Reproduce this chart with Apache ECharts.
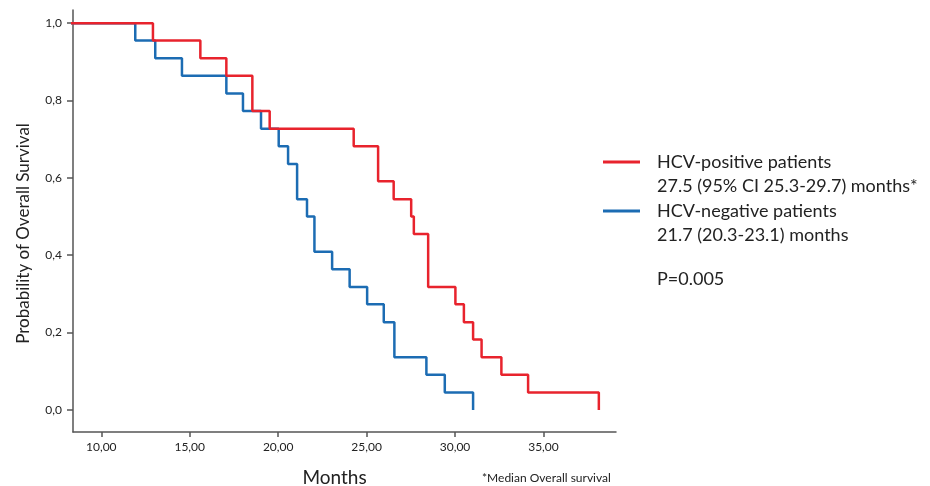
<!DOCTYPE html>
<html>
<head>
<meta charset="utf-8">
<script src="https://cdn.jsdelivr.net/npm/echarts@6/dist/echarts.min.js"></script>
<style>html,body{margin:0;padding:0;background:#fff}#c{width:930px;height:486px}</style>
</head>
<body>
<div id="c"></div>
<script>
// Kaplan-Meier data (time in months, survival probability)
var redName = 'HCV-positive patients';
var redSub = '27.5 (95% CI 25.3-29.7) months*';
var redTimes = [0, 12.92, 15.6, 17.07, 18.54, 19.52, 24.27, 25.65, 26.53, 27.52, 27.67, 28.48, 30.02, 30.5, 31.02, 31.5, 32.62, 34.13, 38.13];
var redSurv  = [1.0, 0.955, 0.909, 0.864, 0.773, 0.727, 0.682, 0.591, 0.545, 0.5, 0.455, 0.318, 0.273, 0.227, 0.182, 0.136, 0.091, 0.045, 0.0];

var blueName = 'HCV-negative patients';
var blueSub = '21.7 (20.3-23.1) months';
var blueTimes = [0, 11.92, 13.05, 14.56, 17.07, 18.01, 19.03, 20.03, 20.56, 21.07, 21.63, 22.05, 23.05, 24.04, 25.03, 25.97, 26.57, 28.38, 29.42, 31.02];
var blueSurv  = [1.0, 0.955, 0.909, 0.864, 0.818, 0.773, 0.727, 0.682, 0.636, 0.545, 0.5, 0.409, 0.364, 0.318, 0.273, 0.227, 0.136, 0.091, 0.045, 0.0];

var xTicks = [10, 15, 20, 25, 30, 35];
var yTicks = [0, 0.2, 0.4, 0.6, 0.8, 1.0];
var pText = 'P=0.005';
var footnote = '*Median Overall survival';

function zip(a, b) { return a.map(function (v, i) { return [v, b[i]]; }); }

var RED = '#e8232d', BLUE = '#1c6cb3', AXIS = '#555555';
var FONT = 'Lato';

var chart = echarts.init(document.getElementById('c'), null, {renderer: 'canvas'});

function legendCfg(name, top) {
  return {
    data: [name], orient: 'vertical', left: 603, top: top,
    icon: 'rect', itemWidth: 37, itemHeight: 3, itemGap: 0,
    selectedMode: false,
    formatter: function (n) {
      var sub = n === redName ? redSub : blueSub;
      return ['{t| }', '{s|}{t|' + n + '}', '{s|}{t|' + sub + '}'].join('\n');
    },
    textStyle: {
      fontFamily: FONT, fontSize: 18, color: '#222',
      rich: {
        s: { width: 12, height: 24 },
        t: { fontFamily: FONT, fontSize: 18, lineHeight: 24, color: '#222' }
      }
    },
    padding: 0
  };
}

chart.setOption({
  animation: false,
  backgroundColor: '#fff',
  grid: { left: 73, right: 314, top: 10, bottom: 54, containLabel: false, outerBoundsMode: 'none' },
  legend: [legendCfg(redName, 129), legendCfg(blueName, 178)],
  xAxis: {
    type: 'value', min: 8.4, max: 39.1,
    name: 'Months', nameLocation: 'middle', nameGap: 36,
    nameTextStyle: { fontFamily: FONT, fontSize: 19, color: '#222', padding: [0, 20, 0, 0] },
    axisLine: { show: true, onZero: false, lineStyle: { color: AXIS, width: 1.5 } },
    axisTick: { show: true, length: 5, customValues: xTicks, lineStyle: { color: AXIS, width: 1.5 } },
    axisLabel: { customValues: xTicks, margin: 9, fontFamily: FONT, fontSize: 12, color: '#222',
      formatter: function (v) { return v.toFixed(2).replace('.', ','); } },
    splitLine: { show: false }
  },
  yAxis: {
    type: 'value', min: -0.057, max: 1.034,
    name: 'Probability of Overall Survival', nameLocation: 'middle', nameGap: 41,
    nameTextStyle: { fontFamily: FONT, fontSize: 17, color: '#222', padding: [0, 25, 0, 0] },
    axisLine: { show: true, onZero: false, lineStyle: { color: AXIS, width: 1.5 } },
    axisTick: { show: true, length: 6, customValues: yTicks, lineStyle: { color: AXIS, width: 1.5 } },
    axisLabel: { customValues: yTicks, margin: 11, fontFamily: FONT, fontSize: 12, color: '#222',
      formatter: function (v) { return v.toFixed(1).replace('.', ','); } },
    splitLine: { show: false }
  },
  series: [
    { name: blueName, type: 'line', step: 'end', data: zip(blueTimes, blueSurv), showSymbol: false,
      symbol: 'none', lineStyle: { color: BLUE, width: 2.5 }, itemStyle: { color: BLUE }, clip: true, z: 2 },
    { name: redName, type: 'line', step: 'end', data: zip(redTimes, redSurv), showSymbol: false,
      symbol: 'none', lineStyle: { color: RED, width: 2.5 }, itemStyle: { color: RED }, clip: true, z: 3 }
  ],
  graphic: [
    { type: 'text', left: 657, top: 270, style: { text: pText, fontFamily: FONT, fontSize: 18, fill: '#222' } },
    { type: 'text', left: 482, top: 472, style: { text: footnote, fontFamily: FONT, fontSize: 12, fill: '#222' } }
  ]
});
</script>
</body>
</html>
